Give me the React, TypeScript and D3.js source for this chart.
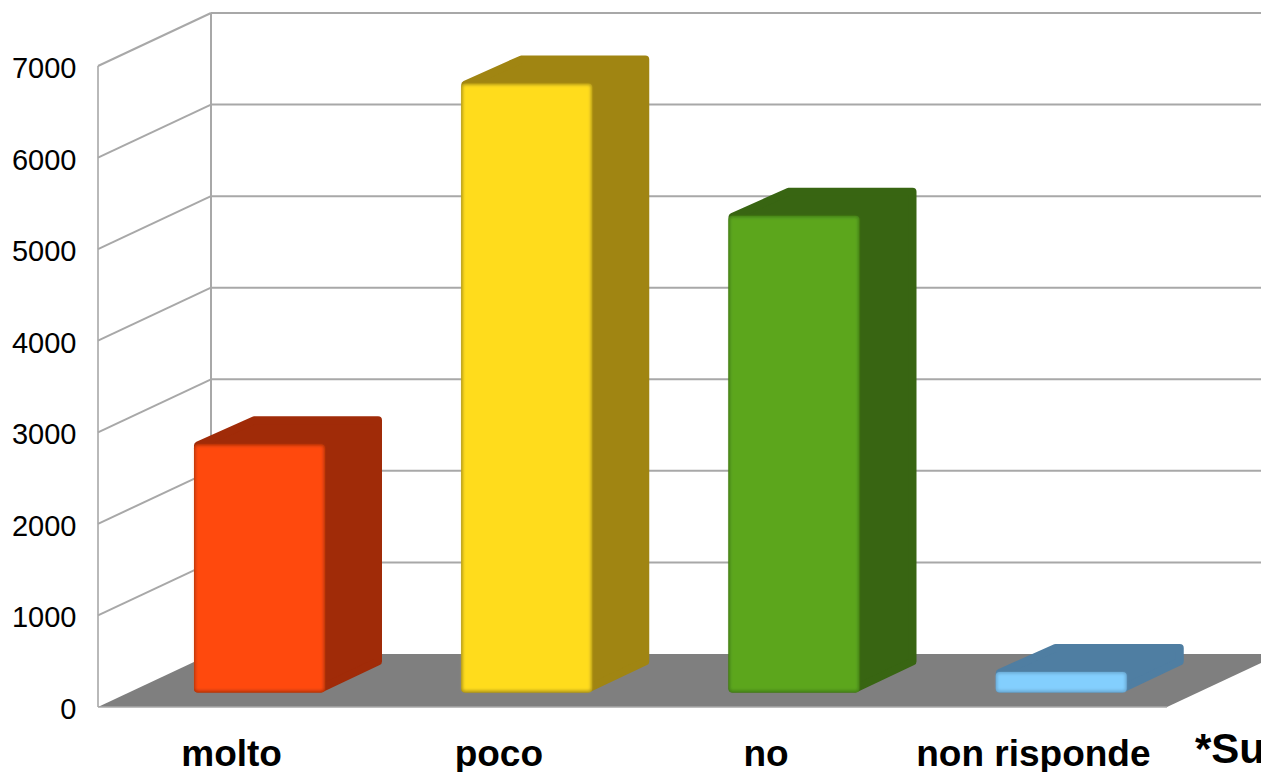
import React from "react";
import * as d3 from "d3";

const categories = ["molto", "poco", "no", "non risponde"];
const values = [2710, 6650, 5205, 225];
const faceColors = ["#ff4a0e", "#ffdc1f", "#5ca61f", "#83cffe"];
const sideColors = ["#a02b08", "#a08512", "#386512", "#4f7ea2"];
const edgeColors = ["#b8340a", "#b39a18", "#437f17", "#6aa8d2"];
const yTicks = [0, 1000, 2000, 3000, 4000, 5000, 6000, 7000];
const footnote = "*Su";

const W = 1261, H = 772;
const depthX = 113, depthY = 53;
const frontLeft = 98, frontRight = 1167;
const barOffsetX = 96, barW = 131, barLift = 14.5, barDX = 57, barDY = 28;
const font = "'Liberation Sans', Arial, sans-serif";
const gridColor = "#a8a8a8";

const x = d3.scaleBand<string>().domain(categories).range([frontLeft, frontRight]);
const y = d3.scaleLinear().domain([0, 7000]).range([707, 66]);
const pts = (p: number[][]) => p.map((q) => q.join(",")).join(" ");

export default function App() {
  const base = y(0);
  const r = 4;
  return (
    <svg width={W} height={H} viewBox={`0 0 ${W} ${H}`} style={{ position: "absolute", left: 0, top: 0, display: "block", background: "#fff" }}>
      <defs>
        <filter id="soft" x="-10%" y="-10%" width="120%" height="120%">
          <feGaussianBlur stdDeviation="1.5" />
        </filter>
      </defs>
      <polygon points={pts([[frontLeft, base], [frontRight, base], [frontRight + depthX, base - depthY], [frontLeft + depthX, base - depthY]])} fill="#7f7f7f" />
      {yTicks.map((t) => (
        <g key={t} stroke={gridColor} strokeWidth={2} fill="none">
          {t > 0 && <line x1={frontLeft + depthX} x2={W} y1={y(t) - depthY} y2={y(t) - depthY} />}
          {t > 0 && <line x1={frontLeft} x2={frontLeft + depthX} y1={y(t)} y2={y(t) - depthY} />}
        </g>
      ))}
      <line x1={frontLeft} x2={frontLeft} y1={y(7000)} y2={base} stroke={gridColor} strokeWidth={1.6} />
      <line x1={frontLeft + depthX} x2={frontLeft + depthX} y1={y(7000) - depthY} y2={base - depthY} stroke={gridColor} strokeWidth={2} />
      <line x1={frontLeft} x2={frontRight} y1={base} y2={base} stroke={gridColor} strokeWidth={1.6} />
      {categories.map((c, i) => {
        const bx = (x(c) as number) + barOffsetX;
        const by = base - barLift;
        const top = y(values[i]) - barLift;
        return (
          <g key={c}>
            <polygon
              points={pts([[bx + r, top + 1], [bx + barDX + r - 1, top - barDY + r], [bx + barW + barDX - r, top - barDY + r], [bx + barW + barDX - r, by - barDY - r + 1], [bx + barW - r, by - r], [bx + r, by - r]])}
              fill={sideColors[i]} stroke={sideColors[i]} strokeWidth={r * 2} strokeLinejoin="round"
            />
            <rect x={bx} y={top} width={barW} height={by - top} rx={r} fill={edgeColors[i]} />
            <rect x={bx + 1.5} y={top + 1.5} width={barW - 3} height={by - top - 3.5} rx={2} fill={faceColors[i]} filter="url(#soft)" />
          </g>
        );
      })}
      {yTicks.map((t) => (
        <text key={t} x={76.5} y={y(t) + 12} textAnchor="end" fontFamily={font} fontSize={29} fill="#000">{t}</text>
      ))}
      {categories.map((c) => (
        <text key={c} x={(x(c) as number) + x.bandwidth() / 2} y={766} textAnchor="middle" fontFamily={font} fontSize={37} fontWeight="bold" fill="#000">{c}</text>
      ))}
      <text x={1195} y={763} fontFamily={font} fontSize={42} fontWeight="bold" fill="#000">{footnote}</text>
    </svg>
  );
}
